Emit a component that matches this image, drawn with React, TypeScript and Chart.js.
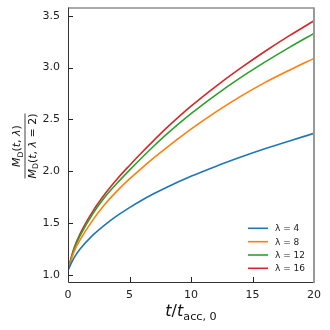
import React, { useEffect, useRef } from "react";
import { Chart, registerables } from "chart.js";
Chart.register(...registerables);

const tValues = [0, 0.5, 1, 2, 3, 4, 5, 6, 7, 8, 10, 12, 14, 16, 18, 20];
const lambda4 = [1.045, 1.165, 1.25, 1.38, 1.482, 1.57, 1.648, 1.719, 1.784, 1.843, 1.95, 2.046, 2.134, 2.216, 2.292, 2.365];
const lambda8 = [1.05, 1.225, 1.34, 1.525, 1.68, 1.81, 1.925, 2.03, 2.13, 2.225, 2.405, 2.57, 2.72, 2.855, 2.975, 3.089];
const lambda12 = [1.05, 1.25, 1.38, 1.585, 1.75, 1.885, 2.01, 2.13, 2.245, 2.355, 2.555, 2.735, 2.9, 3.052, 3.195, 3.33];
const lambda16 = [1.05, 1.26, 1.4, 1.61, 1.78, 1.925, 2.055, 2.18, 2.3, 2.415, 2.627, 2.817, 2.992, 3.155, 3.308, 3.452];
const seriesLabels = ["λ = 4", "λ = 8", "λ = 12", "λ = 16"];
const seriesValues = [lambda4, lambda8, lambda12, lambda16];
const seriesColors = ["#1f77b4", "#ff7f0e", "#2ca02c", "#d62728"];
const xTicks = [0, 5, 10, 15, 20];
const yTicks = [1.0, 1.5, 2.0, 2.5, 3.0, 3.5];

const FONT = "'DejaVu Sans', sans-serif";

type Run = { t: string; it?: boolean; sub?: boolean };

function runFont(r: Run, size: number) {
  const s = r.sub ? size * 0.7 : size;
  return `${r.it ? "italic " : ""}${s}px ${FONT}`;
}

function runsWidth(ctx: CanvasRenderingContext2D, runs: Run[], size: number) {
  let w = 0;
  for (const r of runs) {
    ctx.font = runFont(r, size);
    w += ctx.measureText(r.t).width;
  }
  return w;
}

function drawRuns(ctx: CanvasRenderingContext2D, runs: Run[], cx: number, baseline: number, size: number) {
  const w = runsWidth(ctx, runs, size);
  let x = cx - w / 2;
  ctx.textAlign = "left";
  ctx.textBaseline = "alphabetic";
  for (const r of runs) {
    ctx.font = runFont(r, size);
    ctx.fillText(r.t, x, baseline + (r.sub ? size * 0.25 : 0));
    x += ctx.measureText(r.t).width;
  }
  return w;
}

const decor = {
  id: "decor",
  afterDraw(chart: any) {
    const ctx: CanvasRenderingContext2D = chart.ctx;
    const a = chart.chartArea;
    const xs = chart.scales.x;
    const ys = chart.scales.y;
    ctx.save();
    // ticks inward
    ctx.strokeStyle = "#222";
    ctx.lineWidth = 1;
    for (const v of xTicks) {
      const px = Math.round(xs.getPixelForValue(v)) + 0.5;
      ctx.beginPath();
      ctx.moveTo(px, a.bottom);
      ctx.lineTo(px, a.bottom - 5);
      ctx.stroke();
    }
    for (const v of yTicks) {
      const py = Math.round(ys.getPixelForValue(v)) + 0.5;
      ctx.beginPath();
      ctx.moveTo(a.left, py);
      ctx.lineTo(a.left + 5, py);
      ctx.stroke();
    }
    // spines
    ctx.strokeStyle = "#333";
    ctx.lineWidth = 1;
    ctx.beginPath();
    ctx.moveTo(a.left + 0.5, a.top);
    ctx.lineTo(a.left + 0.5, a.bottom + 0.5);
    ctx.lineTo(a.right, a.bottom + 0.5);
    ctx.stroke();
    ctx.strokeStyle = "#555";
    ctx.beginPath();
    ctx.moveTo(a.left, a.top + 0.5);
    ctx.lineTo(a.right, a.top + 0.5);
    ctx.stroke();
    ctx.strokeStyle = "#999";
    ctx.lineWidth = 2;
    ctx.beginPath();
    ctx.moveTo(a.right, a.top);
    ctx.lineTo(a.right, a.bottom + 1);
    ctx.stroke();

    // legend
    ctx.lineWidth = 1.6;
    const rows = [228.3, 241.7, 255, 268.3];
    for (let i = 0; i < seriesLabels.length; i++) {
      ctx.strokeStyle = seriesColors[i];
      ctx.beginPath();
      ctx.moveTo(248, rows[i]);
      ctx.lineTo(268, rows[i]);
      ctx.stroke();
      ctx.fillStyle = "#222";
      ctx.font = `9px ${FONT}`;
      ctx.textAlign = "left";
      ctx.textBaseline = "middle";
      ctx.fillText(seriesLabels[i], 275, rows[i] + 0.5);
    }

    // x title
    ctx.fillStyle = "#111";
    drawRuns(
      ctx,
      [
        { t: "t", it: true },
        { t: "/" },
        { t: "t", it: true },
        { t: "acc, 0", sub: true },
      ],
      191,
      316,
      16
    );

    // y title (fraction)
    ctx.translate(25, 146);
    ctx.rotate(-Math.PI / 2);
    const num: Run[] = [
      { t: "M", it: true },
      { t: "D", sub: true },
      { t: "(" },
      { t: "t", it: true },
      { t: ", " },
      { t: "λ", it: true },
      { t: ")" },
    ];
    const den: Run[] = [
      { t: "M", it: true },
      { t: "D", sub: true },
      { t: "(" },
      { t: "t", it: true },
      { t: ", " },
      { t: "λ", it: true },
      { t: " = 2)" },
    ];
    drawRuns(ctx, num, 0, -5, 11);
    const dw = drawRuns(ctx, den, 0, 10.5, 11);
    ctx.strokeStyle = "#111";
    ctx.lineWidth = 0.8;
    ctx.beginPath();
    ctx.moveTo(-dw / 2, 0);
    ctx.lineTo(dw / 2, 0);
    ctx.stroke();
    ctx.restore();
  },
};

export default function App() {
  const ref = useRef<HTMLCanvasElement | null>(null);
  useEffect(() => {
    document.body.style.margin = "0";
    if (!ref.current) return;
    const chart = new Chart(ref.current, {
      type: "line",
      data: {
        datasets: seriesValues.map((vals, i) => ({
          label: seriesLabels[i],
          data: tValues.map((t, j) => ({ x: t, y: vals[j] })),
          borderColor: seriesColors[i],
          backgroundColor: seriesColors[i],
          borderWidth: 1.6,
          pointRadius: 0,
          cubicInterpolationMode: "monotone" as const,
          fill: false,
        })),
      },
      options: {
        responsive: false,
        animation: false,
        events: [],
        layout: { padding: { left: 0, right: 16, top: 7.5, bottom: 0 } },
        plugins: { legend: { display: false }, tooltip: { enabled: false } },
        scales: {
          x: {
            type: "linear",
            min: 0,
            max: 20,
            grid: { display: false, drawTicks: false },
            border: { display: false },
            afterBuildTicks: (s: any) => {
              s.ticks = xTicks.map((v) => ({ value: v }));
            },
            afterFit: (s: any) => {
              s.height = 48;
              s.paddingLeft = 0;
              s.paddingRight = 0;
            },
            ticks: {
              padding: 7,
              color: "#222",
              font: { family: FONT, size: 11 },
              maxRotation: 0,
              callback: (v: any) => String(v),
            },
          },
          y: {
            type: "linear",
            min: 0.93,
            max: 3.58,
            grid: { display: false, drawTicks: false },
            border: { display: false },
            afterBuildTicks: (s: any) => {
              s.ticks = yTicks.map((v) => ({ value: v }));
            },
            afterFit: (s: any) => {
              s.width = 68;
              s.paddingTop = 0;
              s.paddingBottom = 0;
            },
            ticks: {
              padding: 8,
              color: "#222",
              font: { family: FONT, size: 11 },
              callback: (v: any) => Number(v).toFixed(1),
            },
          },
        },
      },
      plugins: [decor],
    });
    return () => chart.destroy();
  }, []);
  return (
    <div style={{ width: 330, height: 330 }}>
      <canvas ref={ref} width={330} height={330} style={{ display: "block" }} />
    </div>
  );
}
